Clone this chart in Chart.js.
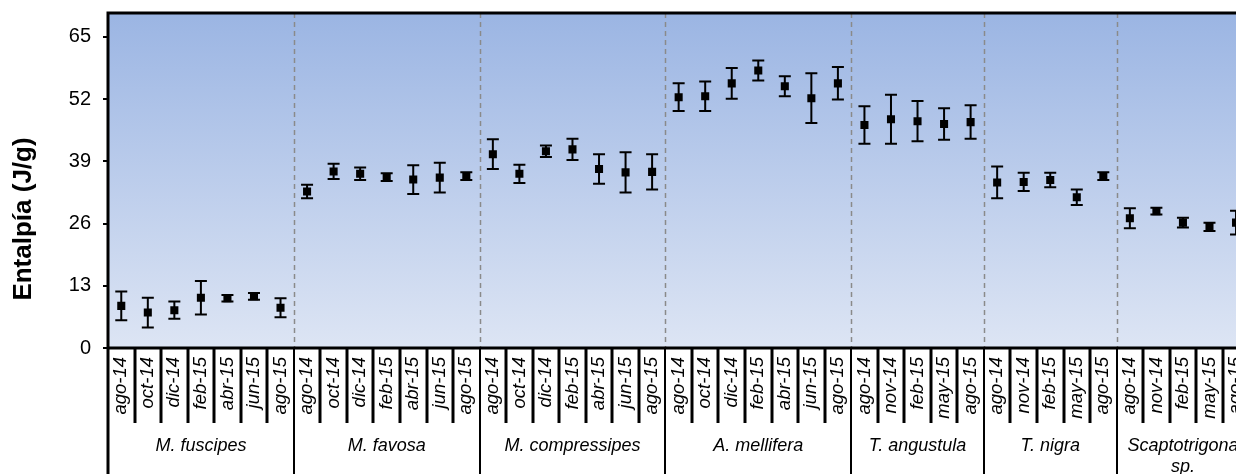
<!DOCTYPE html>
<html>
<head>
<meta charset="utf-8">
<script src="https://cdn.jsdelivr.net/npm/chart.js@4"></script>
<style>
  html, body { margin: 0; padding: 0; background: #fff; overflow: hidden; }
  #wrap { width: 1255px; height: 474px; }
  canvas { display: block; }
</style>
</head>
<body>
<div id="wrap"><canvas id="c" width="1255" height="474"></canvas></div>
<script>
// Species (groups along the x axis)
const species = ['M. fuscipes', 'M. favosa', 'M. compressipes', 'A. mellifera', 'T. angustula', 'T. nigra', 'Scaptotrigona sp.'];

// Sampling months for each species
const monthsA = ['ago-14', 'oct-14', 'dic-14', 'feb-15', 'abr-15', 'jun-15', 'ago-15'];
const monthsB = ['ago-14', 'nov-14', 'feb-15', 'may-15', 'ago-15'];

// Mean enthalpy (J/g) per sample
const fuscipesMean     = [8.8, 7.4, 7.9, 10.5, 10.4, 10.8, 8.4];
const favosaMean       = [32.7, 36.9, 36.4, 35.7, 35.2, 35.6, 35.9];
const compressipesMean = [40.5, 36.4, 41.1, 41.5, 37.4, 36.7, 36.8];
const melliferaMean    = [52.4, 52.6, 55.3, 58.0, 54.7, 52.2, 55.3];
const angustulaMean    = [46.6, 47.8, 47.4, 46.8, 47.2];
const nigraMean        = [34.6, 34.7, 35.1, 31.5, 35.9];
const scaptoMean       = [27.1, 28.6, 26.2, 25.3, 26.2];

// Standard deviation (J/g) per sample
const fuscipesErr     = [3.0, 3.1, 1.8, 3.5, 0.7, 0.7, 2.0];
const favosaErr       = [1.4, 1.6, 1.3, 0.8, 3.0, 3.1, 0.8];
const compressipesErr = [3.1, 1.9, 1.2, 2.2, 3.1, 4.2, 3.7];
const melliferaErr    = [2.9, 3.1, 3.2, 2.1, 2.1, 5.2, 3.4];
const angustulaErr    = [3.9, 5.1, 4.2, 3.3, 3.5];
const nigraErr        = [3.3, 1.9, 1.5, 1.6, 0.8];
const scaptoErr       = [2.1, 0.7, 1.0, 0.85, 2.5];

// Y axis tick values
const yTicks = [0, 13, 26, 39, 52, 65];
const yMax = 70;

const groupMonths = [monthsA, monthsA, monthsA, monthsA, monthsB, monthsB, monthsB];
const groupMeans = [fuscipesMean, favosaMean, compressipesMean, melliferaMean, angustulaMean, nigraMean, scaptoMean];
const groupErrs = [fuscipesErr, favosaErr, compressipesErr, melliferaErr, angustulaErr, nigraErr, scaptoErr];

const labels = groupMonths.flat();
const means = groupMeans.flat();
const errs = groupErrs.flat();
const groupSizes = groupMonths.map(m => m.length);

const FONT = "'Liberation Sans', Arial, sans-serif";

// Pixel position of the boundary before category i
function boundaryPx(xs, i) {
  if (i <= 0) return xs.left;
  if (i >= labels.length) return xs.right;
  return (xs.getPixelForValue(i - 1) + xs.getPixelForValue(i)) / 2;
}

const backdrop = {
  id: 'backdrop',
  beforeDatasetsDraw(chart) {
    const { ctx, chartArea: a, scales: { x, y } } = chart;
    ctx.save();
    // Plot area gradient
    const g = ctx.createLinearGradient(0, a.top, 0, a.bottom);
    g.addColorStop(0, '#9bb5e3');
    g.addColorStop(1, '#dde5f4');
    ctx.fillStyle = g;
    ctx.fillRect(a.left, a.top, a.right - a.left, a.bottom - a.top);

    // Dashed separators between species
    ctx.strokeStyle = '#8a8a8a';
    ctx.lineWidth = 1.5;
    ctx.setLineDash([5, 4]);
    let idx = 0;
    for (let k = 0; k < groupSizes.length - 1; k++) {
      idx += groupSizes[k];
      const px = Math.round(boundaryPx(x, idx)) + 0.5;
      ctx.beginPath();
      ctx.moveTo(px, a.top);
      ctx.lineTo(px, a.bottom);
      ctx.stroke();
    }
    ctx.setLineDash([]);

    // Error bars
    ctx.strokeStyle = '#000';
    ctx.lineWidth = 2;
    const cap = 6;
    for (let i = 0; i < means.length; i++) {
      const px = x.getPixelForValue(i);
      const hi = y.getPixelForValue(means[i] + errs[i]);
      const lo = y.getPixelForValue(means[i] - errs[i]);
      ctx.beginPath();
      ctx.moveTo(px, hi); ctx.lineTo(px, lo);
      ctx.moveTo(px - cap, hi); ctx.lineTo(px + cap, hi);
      ctx.moveTo(px - cap, lo); ctx.lineTo(px + cap, lo);
      ctx.stroke();
    }
    ctx.restore();
  },
  afterDraw(chart) {
    const { ctx, chartArea: a, scales: { x } } = chart;
    const H = chart.height;
    const monthRowBottom = a.bottom + 75;
    ctx.save();
    ctx.strokeStyle = '#000';
    ctx.lineWidth = 3;
    // Frame: top, left (down to the bottom of the table), x axis
    ctx.beginPath();
    ctx.moveTo(a.left, a.top); ctx.lineTo(chart.width, a.top);
    ctx.moveTo(a.left, a.top - 1.5); ctx.lineTo(a.left, H);
    ctx.moveTo(a.left - 1.5, a.bottom); ctx.lineTo(chart.width, a.bottom);
    ctx.stroke();

    // Category table lines
    const groupStarts = new Set();
    let idx = 0;
    groupSizes.forEach(n => { groupStarts.add(idx); idx += n; });
    for (let i = 1; i < labels.length; i++) {
      const px = Math.round(boundaryPx(x, i));
      ctx.beginPath();
      ctx.moveTo(px, a.bottom);
      ctx.lineTo(px, groupStarts.has(i) ? H : monthRowBottom);
      ctx.lineWidth = groupStarts.has(i) ? 2 : 3;
      ctx.stroke();
    }

    // Species names
    ctx.fillStyle = '#000';
    ctx.font = 'italic 18px ' + FONT;
    ctx.textAlign = 'center';
    ctx.textBaseline = 'middle';
    idx = 0;
    species.forEach((name, k) => {
      const l = boundaryPx(x, idx);
      const r = boundaryPx(x, idx + groupSizes[k]);
      idx += groupSizes[k];
      const cx = (l + r) / 2;
      const maxW = r - l - 8;
      const words = name.split(' ');
      const lines = [];
      let cur = '';
      words.forEach(w => {
        const t = cur ? cur + ' ' + w : w;
        if (cur && ctx.measureText(t).width > maxW) { lines.push(cur); cur = w; }
        else cur = t;
      });
      lines.push(cur);
      lines.forEach((ln, j) => ctx.fillText(ln, cx, 446 + j * 21));
    });

    // Axis title
    ctx.translate(24, 219);
    ctx.rotate(-Math.PI / 2);
    ctx.font = 'bold 26px ' + FONT;
    ctx.fillText('Entalpía (J/g)', 0, 0);
    ctx.restore();
  }
};

new Chart(document.getElementById('c'), {
  type: 'line',
  data: {
    labels: labels,
    datasets: [{
      data: means,
      showLine: false,
      pointStyle: 'rect',
      pointRadius: 5.7,
      pointHoverRadius: 5.7,
      backgroundColor: '#000',
      borderColor: '#000',
      borderWidth: 0
    }]
  },
  options: {
    responsive: false,
    animation: false,
    devicePixelRatio: 1,
    events: [],
    layout: { padding: { top: 13, right: 3, left: 0, bottom: 0 } },
    plugins: { legend: { display: false }, tooltip: { enabled: false } },
    scales: {
      x: {
        type: 'category',
        offset: true,
        afterFit(s) { s.height = 126; s.paddingLeft = 0; s.paddingRight = 0; },
        grid: { display: false, drawTicks: false },
        border: { display: false },
        ticks: {
          autoSkip: false,
          minRotation: 90,
          maxRotation: 90,
          padding: 9,
          color: '#000',
          font: { family: FONT, size: 18.5, style: 'italic' }
        }
      },
      y: {
        min: 0,
        max: yMax,
        afterFit(s) { s.width = 108; s.paddingTop = 0; s.paddingBottom = 0; },
        afterBuildTicks(s) { s.ticks = yTicks.map(v => ({ value: v })); },
        grid: { drawOnChartArea: false, drawTicks: true, tickLength: 5, color: '#000', lineWidth: 2 },
        border: { display: false },
        ticks: {
          padding: 12,
          color: '#000',
          font: { family: FONT, size: 20 }
        }
      }
    }
  },
  plugins: [backdrop]
});
</script>
</body>
</html>
